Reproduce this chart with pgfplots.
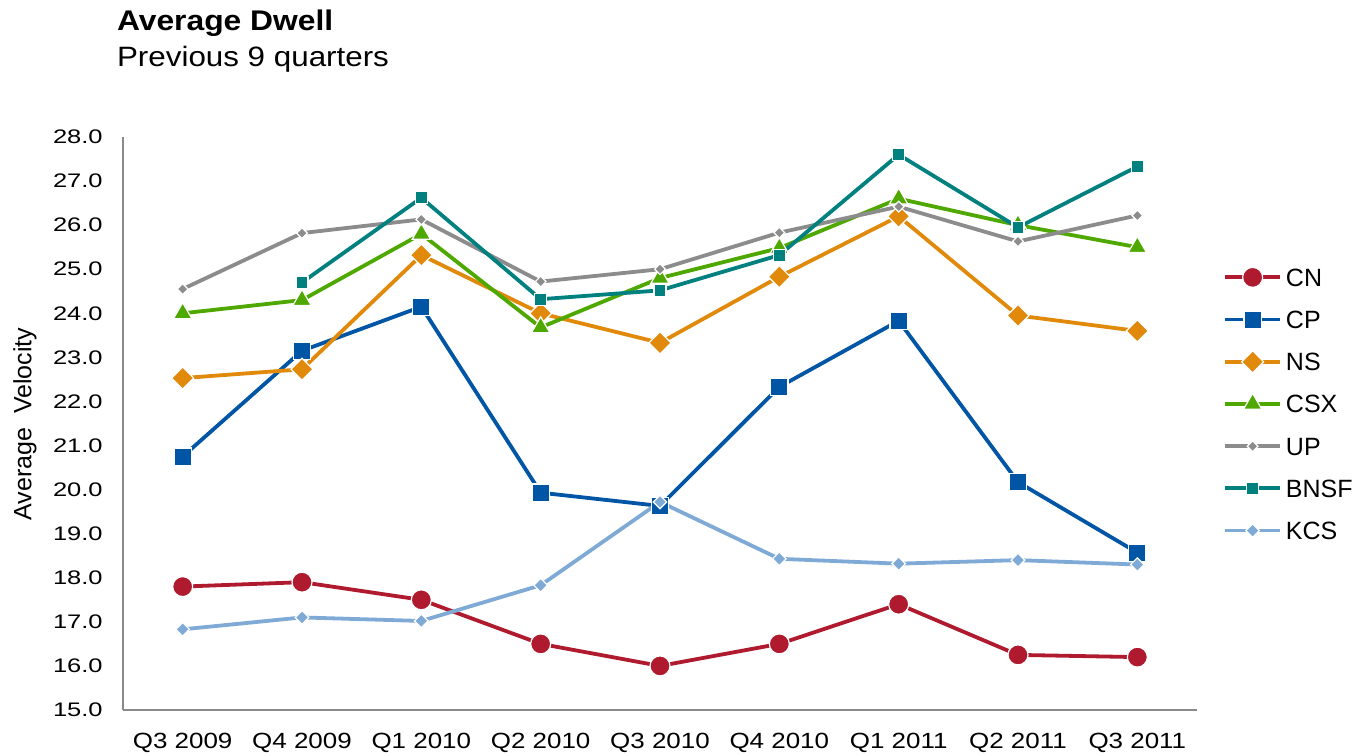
\documentclass[border=0pt]{standalone}
\usepackage{fontspec}
\setmainfont{Liberation Sans}
\newfontfamily\ytickfont{Liberation Sans}[FakeStretch=1.3]
\newfontfamily\xtickfont{Liberation Sans}[FakeStretch=1.18]
\newfontfamily\titlefont{Liberation Sans}[FakeStretch=1.12]
\usepackage{pgfplots}
\pgfplotsset{compat=1.18}

\definecolor{cCN}{HTML}{AF1A2E}
\definecolor{cCP}{HTML}{0055A4}
\definecolor{cNS}{HTML}{E0890A}
\definecolor{cCSX}{HTML}{4FA800}
\definecolor{cUP}{HTML}{8C8C8C}
\definecolor{cBNSF}{HTML}{00807F}
\definecolor{cKCS}{HTML}{7FAAD6}
\definecolor{axgray}{HTML}{8A8A8A}

\pgfplotsset{
  ser/.style n args={4}{color=#1, line width=1.9pt, mark=#2, mark size=#3,
    mark options={solid, fill=#1, draw=white, line width=0.6pt, rotate=#4}},
}

\begin{document}
\begin{tikzpicture}
\useasboundingbox (-61.5pt,-22.5pt) rectangle (618pt,355pt);
\begin{axis}[
  at={(0,0)}, anchor=south west,
  scale only axis,
  width=537pt, height=286.5pt,
  xmin=-0.5, xmax=8.5,
  ymin=15, ymax=28,
  ytick={15,16,...,28},
  xtick={0,...,8},
  xticklabels={Q3 2009,Q4 2009,Q1 2010,Q2 2010,Q3 2010,Q4 2010,Q1 2011,Q2 2011,Q3 2011},
  axis x line*=bottom, axis y line*=left,
  axis line style={-, draw=axgray, line width=0.8pt},
  major tick length=0pt,
  /pgf/number format/.cd, fixed, fixed zerofill, precision=1, assume math mode=true,
  /pgfplots/.cd,
  yticklabel style={font=\ytickfont\fontsize{9.8}{10}\selectfont, inner sep=0pt, xshift=-10pt, text=black},
  xticklabel style={font=\xtickfont\fontsize{11}{12}\selectfont, inner sep=0pt, yshift=-11.5pt, text=black},
  clip=false,
  legend style={draw=none, fill=none, inner sep=0pt,
    at={(rel axis cs:1.026,0.7714)}, anchor=north west,
    font=\fontsize{12.5}{13}\selectfont,
    nodes={inner sep=0pt, text height=9pt, text depth=0pt},
    row sep=12.1pt,
    /tikz/every odd column/.append style={column sep=3pt}},
  legend cell align=left,
  legend image code/.code={
    \draw[overlay, mark repeat=2, mark phase=2] plot coordinates {(0cm,0cm) (0.48cm,0cm) (0.96cm,0cm)};
    \pgfpathrectangle{\pgfpoint{0pt}{-4pt}}{\pgfpoint{0.96cm}{8pt}}\pgfusepath{}
  },
]
% CN
\addplot[ser={cCN}{*}{5pt}{0}] coordinates {
  (0,17.8) (1,17.9) (2,17.5) (3,16.5) (4,16.0) (5,16.5) (6,17.4) (7,16.25) (8,16.2)};
\addlegendentry{CN}
% CP
\addplot[ser={cCP}{square*}{4.3pt}{0}] coordinates {
  (0,20.75) (1,23.15) (2,24.15) (3,19.93) (4,19.63) (5,22.33) (6,23.83) (7,20.17) (8,18.57)};
\addlegendentry{CP}
% NS
\addplot[ser={cNS}{square*}{3.9pt}{45}] coordinates {
  (0,22.53) (1,22.73) (2,25.32) (3,24.0) (4,23.33) (5,24.83) (6,26.2) (7,23.95) (8,23.6)};
\addlegendentry{NS}
% CSX
\addplot[ser={cCSX}{triangle*}{5.3pt}{0}] coordinates {
  (0,24.0) (1,24.3) (2,25.8) (3,23.68) (4,24.8) (5,25.48) (6,26.6) (7,26.0) (8,25.5)};
\addlegendentry{CSX}
% UP
\addplot[ser={cUP}{square*}{1.9pt}{45}] coordinates {
  (0,24.55) (1,25.82) (2,26.13) (3,24.72) (4,25.0) (5,25.83) (6,26.42) (7,25.63) (8,26.22)};
\addlegendentry{UP}
% BNSF
\addplot[ser={cBNSF}{square*}{3pt}{0}] coordinates {
  (1,24.7) (2,26.62) (3,24.32) (4,24.52) (5,25.32) (6,27.6) (7,25.95) (8,27.33)};
\addlegendentry{BNSF}
% KCS
\addplot[ser={cKCS}{square*}{2.4pt}{45}] coordinates {
  (0,16.83) (1,17.1) (2,17.02) (3,17.83) (4,19.72) (5,18.43) (6,18.32) (7,18.4) (8,18.3)};
\addlegendentry{KCS}
\end{axis}
\node[anchor=base west, font=\titlefont\bfseries\fontsize{14.2}{16}\selectfont] at (-6.5pt,339.5pt) {Average Dwell};
\node[anchor=base west, font=\titlefont\fontsize{14}{16}\selectfont] at (-6.5pt,321.5pt) {Previous 9 quarters};
\node[rotate=90, font=\fontsize{12.5}{14}\selectfont] at (-49pt,143pt) {Average\ \ Velocity};
\end{tikzpicture}
\end{document}
